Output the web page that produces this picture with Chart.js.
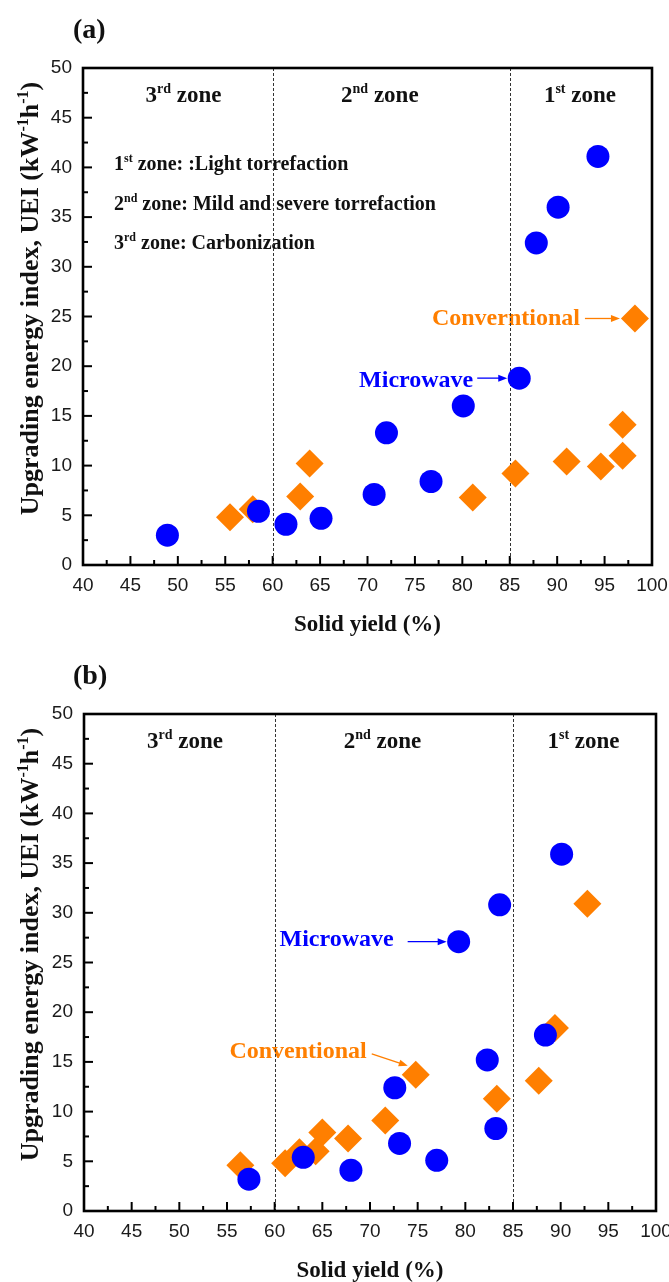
<!DOCTYPE html>
<html>
<head>
<meta charset="utf-8">
<title>Upgrading energy index vs solid yield</title>
<script src="https://cdn.jsdelivr.net/npm/chart.js@4/dist/chart.umd.min.js"></script>
<style>
  html, body { margin: 0; padding: 0; background: #fff; }
  #wrap { position: relative; width: 669px; height: 1282px; overflow: hidden; }
  .panel { position: absolute; left: 0; width: 690px; height: 641px; }
</style>
</head>
<body>
<div id="wrap">
  <div class="panel" style="top:0"><canvas id="panelA" width="690" height="641"></canvas></div>
  <div class="panel" style="top:641px"><canvas id="panelB" width="690" height="641"></canvas></div>
</div>
<script>
// ---- data: solid yield (%) and UEI (kW^-1 h^-1) ----
const aMicrowaveYield    = [48.9, 58.5, 61.4, 65.1, 70.7, 72.0, 76.7, 80.1, 86.0, 87.8, 90.1, 94.3];
const aMicrowaveUEI      = [3.0, 5.4, 4.1, 4.7, 7.1, 13.3, 8.4, 16.0, 18.8, 32.4, 36.0, 41.1];
const aConventionalYield = [55.5, 57.9, 62.9, 63.9, 81.1, 85.6, 91.0, 94.6, 96.9, 96.9, 98.2];
const aConventionalUEI   = [4.8, 5.6, 6.9, 10.2, 6.8, 9.2, 10.4, 9.9, 11.0, 14.1, 24.8];

const bMicrowaveYield    = [57.3, 63.0, 68.0, 72.6, 73.1, 77.0, 79.3, 82.3, 83.2, 83.6, 88.4, 90.1];
const bMicrowaveUEI      = [3.2, 5.4, 4.1, 12.4, 6.8, 5.1, 27.1, 15.2, 8.3, 30.8, 17.7, 35.9];
const bConventionalYield = [56.4, 61.1, 62.6, 64.3, 65.0, 67.7, 71.6, 74.8, 83.3, 87.7, 89.4, 92.8];
const bConventionalUEI   = [4.6, 4.8, 5.9, 6.0, 7.9, 7.3, 9.1, 13.7, 11.3, 13.1, 18.4, 30.9];

const yieldTicks = [40, 45, 50, 55, 60, 65, 70, 75, 80, 85, 90, 95, 100];
const ueiTicks   = [0, 5, 10, 15, 20, 25, 30, 35, 40, 45, 50];

// zone borders on the solid-yield axis and their labels (^...^ marks superscript)
const zoneEdges  = [60, 85];
const zoneTitles = ['3^rd^ zone', '2^nd^ zone', '1^st^ zone'];
const zoneNotes  = ['1^st^ zone: :Light torrefaction',
                    '2^nd^ zone: Mild and severe torrefaction',
                    '3^rd^ zone: Carbonization'];
const seriesNames = ['Microwave', 'Conventional'];
const xTitle = 'Solid yield (%)';
const yTitle = 'Upgrading energy index, UEI (kW^-1^h^-1^)';

// ---- drawing helpers ----
const SERIF = '"Liberation Serif", "Times New Roman", Times, serif';
const SANS  = '"Liberation Sans", Arial, Helvetica, sans-serif';
const BLUE = '#0000ff';
const ORANGE = '#ff7f00';
const INK = '#111111';
// horizontal anchor of each zone title, in solid-yield units
const zoneTitleAt = [50.6, 71.3, 92.4];

function splitRich(str) {
  return str.split('^').map((t, i) => ({ t, sup: i % 2 === 1 }));
}
function richWidth(ctx, str, size) {
  let w = 0;
  for (const p of splitRich(str)) {
    ctx.font = `bold ${p.sup ? Math.round(size * 0.62) : size}px ${SERIF}`;
    w += ctx.measureText(p.t).width;
  }
  return w;
}
// draws text with superscripts; y is the baseline
function richText(ctx, str, x, y, size, align, color) {
  const w = richWidth(ctx, str, size);
  let cx = align === 'center' ? x - w / 2 : (align === 'right' ? x - w : x);
  ctx.fillStyle = color;
  ctx.textAlign = 'left';
  ctx.textBaseline = 'alphabetic';
  for (const p of splitRich(str)) {
    const s = p.sup ? Math.round(size * 0.62) : size;
    ctx.font = `bold ${s}px ${SERIF}`;
    ctx.fillText(p.t, cx, p.sup ? y - size * 0.4 : y);
    cx += ctx.measureText(p.t).width;
  }
  return w;
}
function arrow(ctx, x0, y0, x1, y1, color) {
  const ang = Math.atan2(y1 - y0, x1 - x0);
  const len = 9, half = 3.5;
  ctx.strokeStyle = color;
  ctx.fillStyle = color;
  ctx.lineWidth = 1.3;
  ctx.setLineDash([]);
  ctx.beginPath();
  ctx.moveTo(x0, y0);
  ctx.lineTo(x1 - Math.cos(ang) * len * 0.6, y1 - Math.sin(ang) * len * 0.6);
  ctx.stroke();
  ctx.beginPath();
  ctx.moveTo(x1, y1);
  ctx.lineTo(x1 - Math.cos(ang) * len - Math.sin(ang) * half, y1 - Math.sin(ang) * len + Math.cos(ang) * half);
  ctx.lineTo(x1 - Math.cos(ang) * len + Math.sin(ang) * half, y1 - Math.sin(ang) * len - Math.cos(ang) * half);
  ctx.closePath();
  ctx.fill();
}

// zone titles, notes, callouts and dashed borders (under the markers);
// frame with inward ticks (over the markers); panel letter and axis titles
const panelDecor = {
  id: 'panelDecor',
  beforeDatasetsDraw(chart, args, o) {
    const ctx = chart.ctx, ca = chart.chartArea, xs = chart.scales.x;
    ctx.save();
    zoneTitles.forEach((t, i) => {
      richText(ctx, t, xs.getPixelForValue(zoneTitleAt[i]), ca.top + 34, 23, 'center', INK);
    });
    if (o.notes) {
      zoneNotes.forEach((t, i) => richText(ctx, t, ca.left + 31, ca.top + 102 + i * 39.5, 20, 'left', INK));
    }
    for (const c of o.callouts) {
      const pt = chart.getDatasetMeta(c.ds).data[c.idx];
      const color = c.ds === 0 ? BLUE : ORANGE;
      richText(ctx, c.text, pt.x + c.tx, pt.y + c.ty, 24, 'right', color);
      arrow(ctx, pt.x + c.a[0], pt.y + c.a[1], pt.x + c.a[2], pt.y + c.a[3], color);
    }
    ctx.strokeStyle = '#333';
    ctx.lineWidth = 1;
    ctx.setLineDash([3, 2]);
    for (const v of zoneEdges) {
      const px = Math.round(xs.getPixelForValue(v)) + 0.5;
      ctx.beginPath();
      ctx.moveTo(px, ca.top);
      ctx.lineTo(px, ca.bottom);
      ctx.stroke();
    }
    ctx.restore();
  },
  afterDatasetsDraw(chart) {
    const ctx = chart.ctx, ca = chart.chartArea, xs = chart.scales.x, ys = chart.scales.y;
    ctx.save();
    ctx.setLineDash([]);
    ctx.strokeStyle = '#000';
    ctx.lineWidth = 2;
    // inward tick marks: majors at labelled ticks, minors halfway between
    const tickSet = (ticks) => {
      const out = [];
      ticks.forEach((v, i) => {
        out.push([v, 9]);
        if (i < ticks.length - 1) out.push([(v + ticks[i + 1]) / 2, 5]);
      });
      return out;
    };
    for (const [v, len] of tickSet(yieldTicks)) {
      const px = xs.getPixelForValue(v);
      ctx.beginPath(); ctx.moveTo(px, ca.bottom); ctx.lineTo(px, ca.bottom - len); ctx.stroke();
    }
    for (const [v, len] of tickSet(ueiTicks)) {
      const py = ys.getPixelForValue(v);
      ctx.beginPath(); ctx.moveTo(ca.left, py); ctx.lineTo(ca.left + len, py); ctx.stroke();
    }
    ctx.lineWidth = 2.6;
    ctx.strokeRect(ca.left, ca.top, ca.right - ca.left, ca.bottom - ca.top);
    ctx.restore();
  },
  afterDraw(chart, args, o) {
    const ctx = chart.ctx, ca = chart.chartArea;
    ctx.save();
    richText(ctx, o.letter, 73, ca.top - 30, 28, 'left', INK);
    richText(ctx, xTitle, (ca.left + ca.right) / 2, ca.bottom + 66, 23, 'center', INK);
    ctx.translate(38, (ca.top + ca.bottom) / 2 - 18);
    ctx.rotate(-Math.PI / 2);
    richText(ctx, yTitle, 0, 0, 26, 'center', INK);
    ctx.restore();
  }
};

function points(xs, ys) { return xs.map((x, i) => ({ x, y: ys[i] })); }

function makePanel(id, d, layout, decor) {
  const tickFont = { family: SANS, size: 19 };
  return new Chart(document.getElementById(id), {
    type: 'scatter',
    data: {
      datasets: [
        { label: seriesNames[0], data: points(d.mwX, d.mwY), pointStyle: 'circle',
          pointRadius: 11.5, backgroundColor: BLUE, borderWidth: 0, order: 0, clip: false },
        { label: seriesNames[1], data: points(d.cvX, d.cvY), pointStyle: 'rectRot',
          pointRadius: 14, backgroundColor: ORANGE, borderWidth: 0, order: 1, clip: false }
      ]
    },
    options: {
      responsive: false,
      animation: false,
      events: [],
      layout: { padding: { top: layout.top, right: layout.right, left: 0, bottom: 0 } },
      plugins: { legend: { display: false }, tooltip: { enabled: false }, panelDecor: decor },
      scales: {
        x: {
          type: 'linear', min: 40, max: 100,
          afterBuildTicks: s => { s.ticks = yieldTicks.map(v => ({ value: v })); },
          ticks: { font: tickFont, color: '#1a1a1a', padding: 9, maxRotation: 0, autoSkip: false },
          grid: { display: false, drawTicks: false },
          border: { display: false },
          afterFit: s => { s.height = layout.xH; }
        },
        y: {
          type: 'linear', min: 0, max: 50,
          afterBuildTicks: s => { s.ticks = ueiTicks.map(v => ({ value: v })); },
          ticks: { font: tickFont, color: '#1a1a1a', padding: 11, autoSkip: false },
          grid: { display: false, drawTicks: false },
          border: { display: false },
          afterFit: s => { s.width = layout.yW; }
        }
      }
    },
    plugins: [panelDecor]
  });
}

makePanel('panelA',
  { mwX: aMicrowaveYield, mwY: aMicrowaveUEI, cvX: aConventionalYield, cvY: aConventionalUEI },
  { top: 68, right: 38, xH: 76, yW: 83 },
  { letter: '(a)', notes: true,
    callouts: [
      { ds: 0, idx: 8, text: 'Microwave', tx: -46, ty: 9, a: [-42, 0, -12, 0] },
      { ds: 1, idx: 10, text: 'Converntional', tx: -55, ty: 7, a: [-50, 0, -15, 0] }
    ] });

makePanel('panelB',
  { mwX: bMicrowaveYield, mwY: bMicrowaveUEI, cvX: bConventionalYield, cvY: bConventionalUEI },
  { top: 73, right: 34, xH: 71, yW: 84 },
  { letter: '(b)', notes: false,
    callouts: [
      { ds: 0, idx: 6, text: 'Microwave', tx: -65, ty: 4, a: [-51, 0, -12, 0] },
      { ds: 1, idx: 7, text: 'Conventional', tx: -49, ty: -17, a: [-44, -21, -8, -9] }
    ] });
</script>
</body>
</html>
